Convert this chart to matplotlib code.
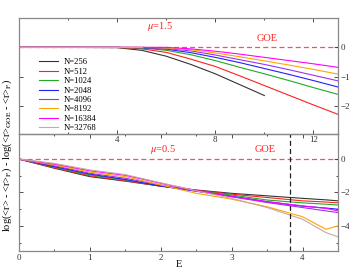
import matplotlib
matplotlib.use('Agg')
import matplotlib.pyplot as plt
import numpy as np

plt.rcParams['font.family'] = ['Liberation Serif', 'DejaVu Serif']
plt.rcParams['mathtext.fontset'] = 'stix'

labels = ['N=256', 'N=512', 'N=1024', 'N=2048', 'N=4096', 'N=8192', 'N=16384', 'N=32768']
colors = ['#333333', '#ff2020', '#22aa22', '#2020ff', '#a030f0', '#ffa500', '#ff00ff', '#c8a8a0']

# top panel, mu = 1.5
E_top = [0, 2, 4, 5, 6, 7, 8, 9, 10, 11, 12, 13]
top_vals = [
    [0, 0, -0.01, -0.1, -0.3, -0.58, -0.9, -1.27, -1.64, np.nan, np.nan, np.nan],
    [0, 0, 0, -0.05, -0.17, -0.4, -0.65, -0.97, -1.3, -1.63, -1.96, -2.28],
    [0, 0, 0, -0.02, -0.1, -0.25, -0.45, -0.68, -0.9, -1.13, -1.37, -1.6],
    [0, 0, 0, -0.01, -0.06, -0.18, -0.34, -0.52, -0.72, -0.92, -1.13, -1.35],
    [0, 0, 0, 0, -0.04, -0.12, -0.26, -0.42, -0.58, -0.76, -0.95, -1.14],
    [0, 0, 0, 0, -0.02, -0.08, -0.19, -0.32, -0.46, -0.6, -0.75, -0.91],
    [0, 0, 0, 0, 0, -0.05, -0.13, -0.23, -0.34, -0.45, -0.56, -0.68],
    [0, 0, 0, 0, np.nan, np.nan, np.nan, np.nan, np.nan, np.nan, np.nan, np.nan],
]

# bottom panel, mu = 0.5
E_bot = [0, 0.5, 1.0, 1.5, 2.0, 2.5, 3.0, 3.5, 4.0, 4.33, 4.5]
bot_vals = [
    [0, -0.55, -1.05, -1.32, -1.62, -1.85, -2.05, -2.2, -2.35, -2.44, -2.5],
    [0, -0.52, -1.0, -1.3, -1.62, -1.87, -2.1, -2.3, -2.5, -2.57, -2.62],
    [0, -0.48, -0.95, -1.25, -1.6, -1.9, -2.15, -2.45, -2.62, -2.7, -2.75],
    [0, -0.45, -0.9, -1.22, -1.62, -1.92, -2.22, -2.55, -2.82, -2.93, -3.0],
    [0, -0.4, -0.85, -1.15, -1.55, -1.92, -2.25, -2.6, -2.9, -3.1, -3.2],
    [0, -0.35, -0.78, -1.05, -1.55, -2.05, -2.4, -2.85, -3.45, -4.2, -4.0],
    [0, -0.3, -0.7, -0.97, -1.45, -1.88, -2.25, -2.55, -2.8, -2.95, -3.1],
    [0, -0.26, -0.65, -0.93, -1.42, -1.9, -2.35, -2.9, -3.6, -4.4, -4.65],
]

fig = plt.figure(figsize=(3.49, 2.70), dpi=100)
ax1 = fig.add_axes([0.0544, 0.5037, 0.914, 0.4296])
ax2 = fig.add_axes([0.0544, 0.0704, 0.914, 0.4333])
ax2.patch.set_visible(False)

for i in range(len(labels)):
    ax1.plot(E_top, top_vals[i], color=colors[i], lw=0.8, label=labels[i])
    ax2.plot(E_bot, bot_vals[i], color=colors[i], lw=0.8)

for ax in (ax1, ax2):
    ax.axhline(0, color='#ff5050', ls='--', lw=0.9, dashes=(4, 2.5), zorder=0.5)
    ax.tick_params(which='both', direction='in', top=True, right=True, left=True,
                   labelleft=False, labelright=True, labelsize=6.5, colors='#333333',
                   width=0.6, pad=2)
    ax.tick_params(which='major', length=3)
    ax.tick_params(which='minor', length=1.5)
    for s in ax.spines.values():
        s.set_color('#888888')
        s.set_linewidth(0.9)

ax1.set_xlim(0, 13)
ax1.set_ylim(-2.95, 1.0)
ax1.set_xticks([4, 8, 12])
ax1.set_xticks([2, 6, 10], minor=True)
ax1.set_yticks([0, -1, -2])
ax1.tick_params(axis='x', pad=1.5)
ax1.text(5.75, 0.72, r'$\mu$=1.5', color='#ff2020', fontsize=7.5, ha='center', va='center')
ax1.text(10.1, 0.29, 'GOE', color='#ff2020', fontsize=7.5, ha='center', va='center')

ax2.set_xlim(0, 4.5)
ax2.set_ylim(-5.5, 1.5)
ax2.set_xticks([0, 1, 2, 3, 4])
ax2.set_xticks([0.5, 1.5, 2.5, 3.5], minor=True)
ax2.set_yticks([0, -2, -4])
ax2.set_yticks([-1, -3, -5], minor=True)
ax2.axvline(3.83, color='#222222', ls='--', lw=0.9, dashes=(4, 2.5))
ax2.text(2.03, 0.6, r'$\mu$=0.5', color='#ff2020', fontsize=7.5, ha='center', va='center')
ax2.text(3.48, 0.55, 'GOE', color='#ff2020', fontsize=7.5, ha='center', va='center')
ax2.set_xlabel('E', fontsize=7.5)
ax2.xaxis.set_label_coords(0.5, -0.075)

ax1.legend(loc='upper left', bbox_to_anchor=(0.05, 0.69), frameon=False, fontsize=6.2,
           handlelength=2.2, labelspacing=0.16, borderpad=0, handletextpad=0.6)

fig.text(0.02, 0.425, r'log(<r> - <r>$_\mathrm{P}$) - log(<r>$_\mathrm{GOE}$ - <r>$_\mathrm{P}$)',
         rotation=90, fontsize=7.5, ha='center', va='center')

fig.savefig('out.png', dpi=100)
